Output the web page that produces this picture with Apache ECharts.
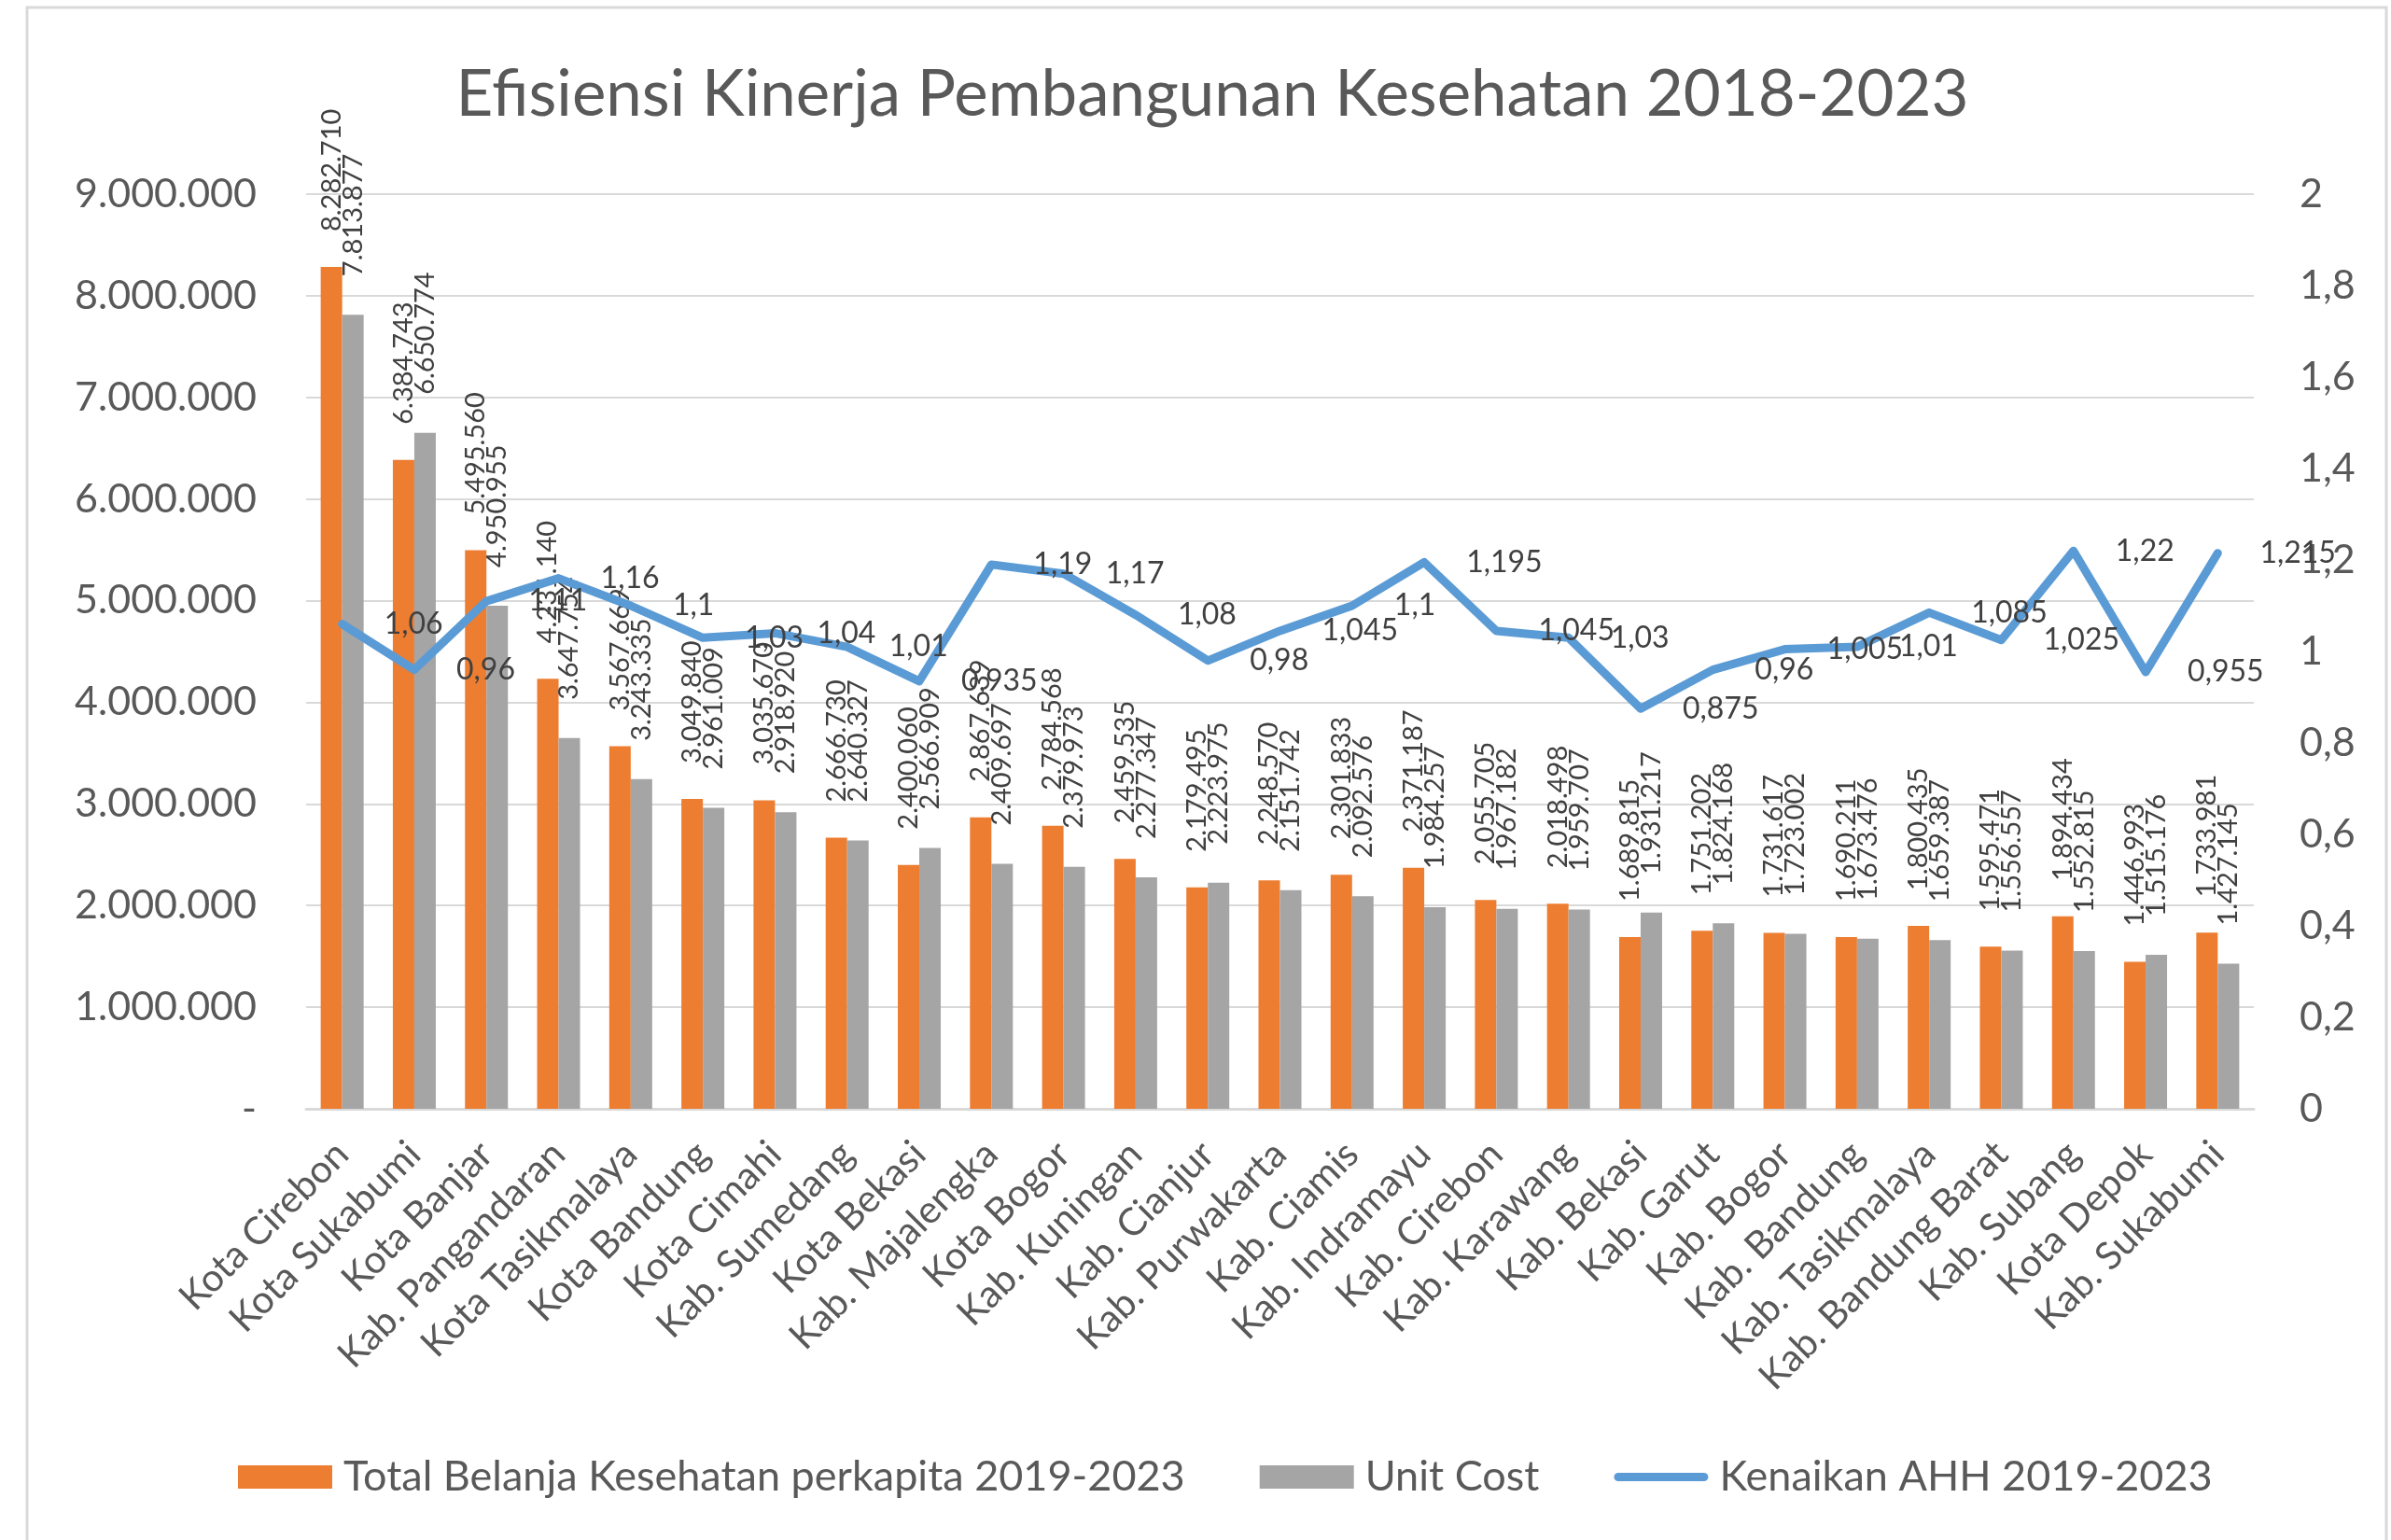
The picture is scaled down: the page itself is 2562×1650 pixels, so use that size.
<!DOCTYPE html>
<html>
<head>
<meta charset="utf-8">
<title>Efisiensi Kinerja Pembangunan Kesehatan 2018-2023</title>
<script src="https://cdn.jsdelivr.net/npm/echarts@6/dist/echarts.min.js"></script>
<style>
  html, body { margin: 0; padding: 0; background: #fff; }
  #chart { width: 2562px; height: 1650px; }
</style>
</head>
<body>
<div id="chart"></div>
<script>
// kabupaten / kota, urut dari belanja terbesar
const wilayah = [
  'Kota Cirebon', 'Kota Sukabumi', 'Kota Banjar', 'Kab. Pangandaran', 'Kota Tasikmalaya',
  'Kota Bandung', 'Kota Cimahi', 'Kab. Sumedang', 'Kota Bekasi', 'Kab. Majalengka',
  'Kota Bogor', 'Kab. Kuningan', 'Kab. Cianjur', 'Kab. Purwakarta', 'Kab. Ciamis',
  'Kab. Indramayu', 'Kab. Cirebon', 'Kab. Karawang', 'Kab. Bekasi', 'Kab. Garut',
  'Kab. Bogor', 'Kab. Bandung', 'Kab. Tasikmalaya', 'Kab. Bandung Barat', 'Kab. Subang',
  'Kota Depok', 'Kab. Sukabumi'
];

const totalBelanja = [
  8282710, 6384743, 5495560, 4231140, 3567669,
  3049840, 3035670, 2666730, 2400060, 2867639,
  2784568, 2459535, 2179495, 2248570, 2301833,
  2371187, 2055705, 2018498, 1689815, 1751202,
  1731617, 1690211, 1800435, 1595471, 1894434,
  1446993, 1733981
];

const unitCost = [
  7813877, 6650774, 4950955, 3647754, 3243335,
  2961009, 2918920, 2640327, 2566909, 2409697,
  2379973, 2277347, 2223975, 2151742, 2092576,
  1984257, 1967182, 1959707, 1931217, 1824168,
  1723002, 1673476, 1659387, 1556557, 1552815,
  1515176, 1427145
];

const kenaikanAHH = [
  1.06, 0.96, 1.11, 1.16, 1.1,
  1.03, 1.04, 1.01, 0.935, 1.19,
  1.17, 1.08, 0.98, 1.045, 1.1,
  1.195, 1.045, 1.03, 0.875, 0.96,
  1.005, 1.01, 1.085, 1.025, 1.22,
  0.955, 1.215
];

const FONT = 'Lato, "Noto Sans", sans-serif';

const ribuan = v => String(Math.round(v)).replace(/\B(?=(\d{3})+(?!\d))/g, '.');
const desimal = v => String(Math.round(v * 1000) / 1000).replace('.', ',');

const barLabel = {
  show: true,
  position: 'top',
  rotate: 90,
  align: 'left',
  verticalAlign: 'middle',
  distance: 38,
  fontFamily: FONT,
  fontSize: 29,
  color: '#404040',
  formatter: p => ribuan(p.value)
};

const chart = echarts.init(document.getElementById('chart'));

const option = {
  backgroundColor: '#ffffff',
  animation: false,
  graphic: [{
    type: 'rect',
    shape: { x: 29, y: 8, width: 2528, height: 1720 },
    style: { fill: 'none', stroke: '#d9d9d9', lineWidth: 3 },
    silent: true
  }],
  title: {
    text: 'Efisiensi Kinerja Pembangunan Kesehatan 2018-2023',
    left: 1294,
    textAlign: 'center',
    top: 62,
    textStyle: {
      fontFamily: FONT,
      fontSize: 69,
      fontWeight: 'normal',
      color: '#595959'
    }
  },
  legend: {
    bottom: 40,
    left: 250,
    itemWidth: 101,
    itemHeight: 25,
    itemGap: 80,
    textStyle: {
      fontFamily: FONT,
      fontSize: 45,
      color: '#595959',
      padding: [0, 0, 0, 7]
    },
    data: [
      { name: 'Total Belanja Kesehatan perkapita 2019-2023', icon: 'rect' },
      { name: 'Unit Cost', icon: 'rect' },
      {
        name: 'Kenaikan AHH 2019-2023',
        icon: 'path://M5,0 L105,0 A5,5 0 0 1 105,10 L5,10 A5,5 0 0 1 5,0 Z',
        itemStyle: { color: '#5B9BD5' }
      }
    ]
  },
  grid: {
    left: 328,
    right: 147,
    top: 208,
    bottom: 462
  },
  xAxis: {
    type: 'category',
    data: wilayah,
    axisTick: { show: false },
    axisLine: { lineStyle: { color: '#d9d9d9', width: 3 } },
    axisLabel: {
      interval: 0,
      rotate: 45,
      margin: 42,
      fontFamily: FONT,
      fontSize: 41,
      color: '#595959'
    }
  },
  yAxis: [{
    type: 'value',
    min: 0,
    max: 9000000,
    interval: 1000000,
    axisLine: { show: false },
    axisTick: { show: false },
    splitLine: { lineStyle: { color: '#d9d9d9', width: 2 } },
    axisLabel: {
      margin: 53,
      fontFamily: FONT,
      fontSize: 43,
      color: '#595959',
      formatter: v => (v === 0 ? '-' : ribuan(v))
    }
  }, {
    type: 'value',
    min: 0,
    max: 2,
    interval: 0.2,
    axisLine: { show: false },
    axisTick: { show: false },
    splitLine: { show: false },
    axisLabel: {
      margin: 49,
      fontFamily: FONT,
      fontSize: 43,
      color: '#595959',
      formatter: v => desimal(v)
    }
  }],
  series: [{
    name: 'Total Belanja Kesehatan perkapita 2019-2023',
    type: 'bar',
    data: totalBelanja,
    barWidth: 23,
    barGap: '0%',
    itemStyle: { color: '#ED7D31' },
    label: barLabel
  }, {
    name: 'Unit Cost',
    type: 'bar',
    data: unitCost,
    barWidth: 23,
    barGap: '0%',
    itemStyle: { color: '#A5A5A5' },
    label: Object.assign({}, barLabel, { distance: 41 })
  }, {
    name: 'Kenaikan AHH 2019-2023',
    type: 'line',
    yAxisIndex: 1,
    data: kenaikanAHH,
    symbol: 'circle',
    symbolSize: 0.1,
    showSymbol: true,
    z: 5,
    lineStyle: { color: '#5B9BD5', width: 9, cap: 'round', join: 'round' },
    itemStyle: { color: '#5B9BD5' },
    label: {
      show: true,
      position: 'right',
      distance: 45,
      fontFamily: FONT,
      fontSize: 32,
      color: '#404040',
      formatter: p => desimal(p.value)
    }
  }]
};

chart.setOption(option);
</script>
</body>
</html>
